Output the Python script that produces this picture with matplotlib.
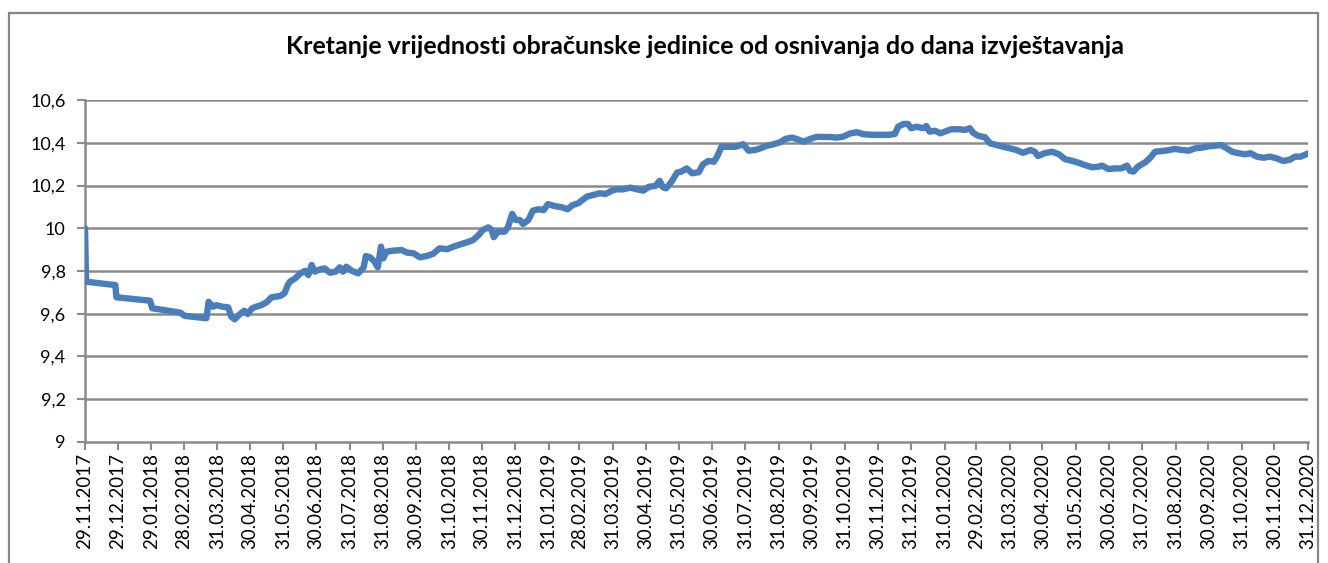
import matplotlib
matplotlib.use("Agg")
import matplotlib.pyplot as plt
import matplotlib.patches as mpatches
import pandas as pd
import numpy as np

title = "Kretanje vrijednosti obračunske jedinice od osnivanja do dana izvještavanja"
start_date = "2017-11-29"

# days since start date
day_offsets = [
    0, 1, 28, 29, 60, 62, 88, 92, 112, 114, 118, 121, 127, 132, 135, 138, 143, 147, 150, 154,
    158, 163, 168, 172, 180, 184, 187, 189,
    194, 198, 203, 206, 209, 212, 217, 221, 226, 231, 235, 238, 241, 246, 252, 257, 259, 263,
    267, 270, 273, 275, 278, 284, 292, 297, 303, 309, 315, 321, 327, 334, 340, 347, 354, 358,
    363, 367, 372,
    375, 377, 381, 387, 390, 394, 397, 401, 404, 409, 413, 418, 423, 427, 433, 440, 445, 450,
    455, 458, 463, 469, 475, 480, 486, 490, 496, 503, 509, 515, 520, 526, 530, 533, 536, 541,
    546, 550, 555, 560, 566,
    570, 575, 580, 583, 587, 593, 600, 607, 612, 618, 623, 629, 635, 641, 646, 652, 656, 663,
    669, 675, 681, 687, 693, 699, 706, 712, 718, 726, 733, 741,
    747, 750, 755, 759, 762, 767, 773, 776, 779, 784, 789, 793, 799, 806, 812, 816, 819, 824,
    830, 835, 841, 847, 853, 859, 865, 872, 876, 879, 885, 892, 898, 904, 910, 916, 922, 929, 935,
    938, 944, 950, 956, 961, 964, 967, 971, 978, 982, 987, 993, 999, 1005, 1012, 1018, 1024,
    1030, 1036, 1042, 1048, 1053, 1058, 1064, 1070, 1075, 1081, 1087, 1093, 1099, 1105, 1111,
    1116, 1121, 1125, 1128,
]
values = [
    10.00, 9.75, 9.734, 9.677, 9.661, 9.626, 9.605, 9.59, 9.579, 9.656, 9.633, 9.64, 9.633, 9.630,
    9.586, 9.574, 9.599, 9.614, 9.599, 9.625,
    9.633, 9.641, 9.656, 9.677, 9.683, 9.696, 9.734, 9.750,
    9.766, 9.786, 9.801, 9.781, 9.828, 9.797, 9.808, 9.812, 9.792, 9.797, 9.817, 9.797, 9.820,
    9.801, 9.789, 9.817, 9.870, 9.864,
    9.844, 9.817, 9.914, 9.859, 9.890, 9.895, 9.898, 9.886, 9.883, 9.864, 9.870, 9.880, 9.906,
    9.902, 9.914, 9.926, 9.937, 9.945,
    9.968, 9.992, 10.004,
    9.992, 9.958, 9.984, 9.984, 10.004, 10.067, 10.039, 10.039, 10.020, 10.039, 10.082, 10.089,
    10.085, 10.113, 10.104, 10.098, 10.089, 10.109,
    10.117, 10.129, 10.148, 10.156, 10.164, 10.160, 10.176, 10.182, 10.182, 10.190, 10.182,
    10.176, 10.194, 10.198, 10.222, 10.192, 10.187, 10.218,
    10.260, 10.265, 10.280, 10.257, 10.262,
    10.299, 10.315, 10.311, 10.335, 10.381, 10.381, 10.381, 10.393, 10.363, 10.366, 10.374,
    10.386, 10.393, 10.402, 10.418, 10.424, 10.418, 10.405,
    10.418, 10.428, 10.427, 10.427, 10.424, 10.428, 10.444, 10.449, 10.440, 10.437, 10.437, 10.437,
    10.441, 10.475, 10.488, 10.488, 10.468, 10.475, 10.468, 10.478, 10.452, 10.456, 10.444,
    10.452, 10.463, 10.463, 10.460, 10.468, 10.447, 10.432,
    10.426, 10.397, 10.389, 10.381, 10.374, 10.366, 10.353, 10.366, 10.358, 10.338, 10.351,
    10.358, 10.347, 10.323, 10.316, 10.307, 10.296, 10.285, 10.288,
    10.293, 10.277, 10.280, 10.280, 10.293, 10.268, 10.265, 10.288, 10.309, 10.327, 10.358,
    10.361, 10.365, 10.371, 10.366, 10.363, 10.374,
    10.377, 10.383, 10.386, 10.389, 10.374, 10.358, 10.351, 10.346, 10.351, 10.335, 10.330,
    10.335, 10.327, 10.315, 10.320,
    10.335, 10.335, 10.343, 10.350,
]

x_tick_labels = [
    "29.11.2017", "29.12.2017", "29.01.2018", "28.02.2018", "31.03.2018", "30.04.2018",
    "31.05.2018", "30.06.2018", "31.07.2018", "31.08.2018", "30.09.2018", "31.10.2018",
    "30.11.2018", "31.12.2018", "31.01.2019", "28.02.2019", "31.03.2019", "30.04.2019",
    "31.05.2019", "30.06.2019", "31.07.2019", "31.08.2019", "30.09.2019", "31.10.2019",
    "30.11.2019", "31.12.2019", "31.01.2020", "29.02.2020", "31.03.2020", "30.04.2020",
    "31.05.2020", "30.06.2020", "31.07.2020", "31.08.2020", "30.09.2020", "31.10.2020",
    "30.11.2020", "31.12.2020",
]
y_ticks = [9.0, 9.2, 9.4, 9.6, 9.8, 10.0, 10.2, 10.4, 10.6]
y_tick_labels = ["9", "9,2", "9,4", "9,6", "9,8", "10", "10,2", "10,4", "10,6"]

font = ["Lato", "DejaVu Sans"]
plt.rcParams["font.family"] = font

dates = pd.Timestamp(start_date) + pd.to_timedelta(day_offsets, unit="D")
tick_dates = pd.to_datetime(x_tick_labels, format="%d.%m.%Y")

W, H = 1328, 563
fig = plt.figure(figsize=(W / 100, H / 100), dpi=100)
fig.patch.set_facecolor("white")

# outer chart border
border = mpatches.Rectangle((9 / W, -0.05), (1318 - 9) / W, 1.05 - 13 / H,
                            transform=fig.transFigure, fill=False,
                            edgecolor="#868686", linewidth=1.6)
fig.patches.append(border)

ax = fig.add_axes([85 / W, 1 - 442 / H, (1308 - 85) / W, (442 - 100) / H])

grid_c = "#8a8a8a"
for yv in y_ticks[1:]:
    ax.axhline(yv, color=grid_c, linewidth=1.8, zorder=1)

ax.plot(dates, values, color="#4a7ebb", linewidth=4.6, solid_joinstyle="round",
        solid_capstyle="round", zorder=3)

ax.set_xlim(tick_dates[0], tick_dates[-1])
ax.set_ylim(9.0, 10.6)
ax.set_yticks(y_ticks)
ax.set_yticklabels(y_tick_labels)
ax.set_xticks(tick_dates)
ax.set_xticklabels(x_tick_labels, rotation=90)

for s in ["top", "right"]:
    ax.spines[s].set_visible(False)
for s in ["left", "bottom"]:
    ax.spines[s].set_color(grid_c)
    ax.spines[s].set_linewidth(1.8)

ax.tick_params(axis="both", colors=grid_c, labelcolor="black", width=1.5, length=6,
               labelsize=13)
ax.tick_params(axis="y", pad=8)
ax.tick_params(axis="x", pad=2, labelsize=13.5)

fig.text(705 / W, 1 - 47 / H, title, ha="center", va="center", fontsize=18,
         fontweight="bold", color="black")

fig.savefig("out.png", dpi=100, facecolor="white")
